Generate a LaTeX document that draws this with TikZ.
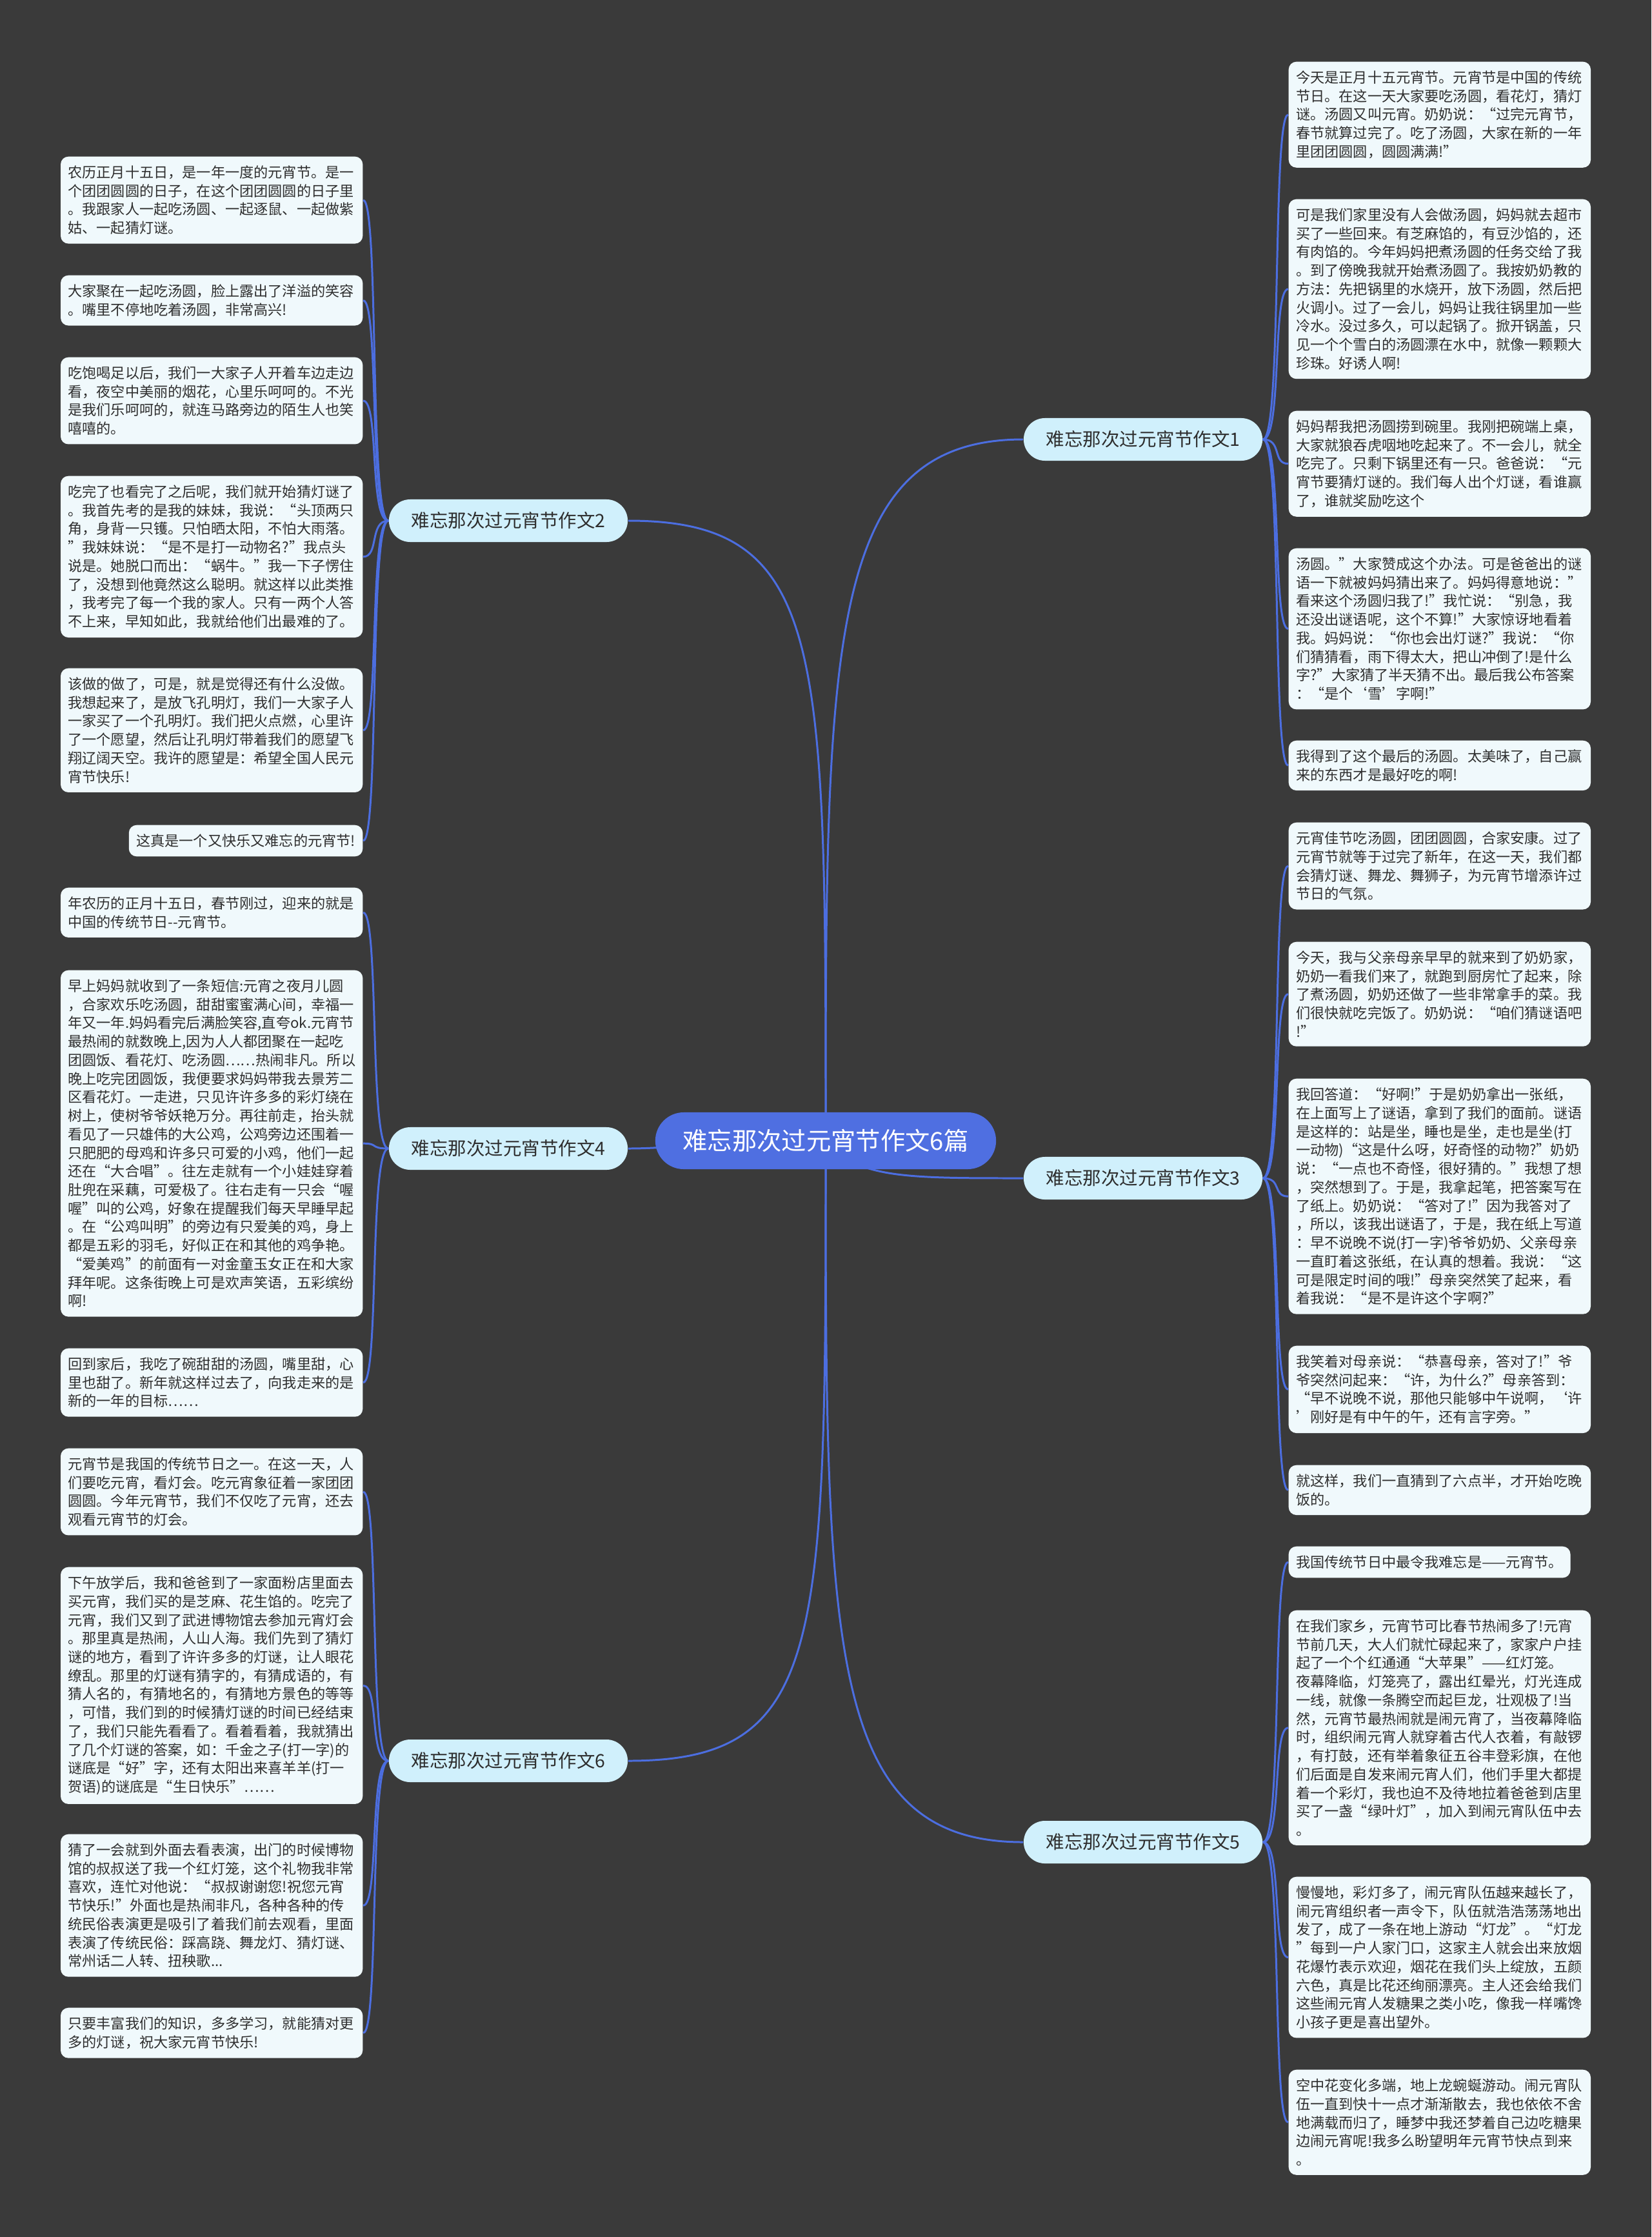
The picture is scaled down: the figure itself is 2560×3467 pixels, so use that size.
\documentclass[tikz,border=0pt]{standalone}
\usepackage{fontspec}
\setmainfont{Noto Sans CJK SC}
\usetikzlibrary{backgrounds}
\definecolor{canvas}{HTML}{3A3A3A}
\definecolor{trunk}{HTML}{4C6EE0}
\definecolor{rootfill}{HTML}{4F6FE1}
\definecolor{branchfill}{HTML}{D0F0FC}
\definecolor{leaffill}{HTML}{F0F9FC}
\definecolor{ink}{HTML}{2E2E2E}
\tikzset{
  rootnode/.style={fill=rootfill,text=white,rounded corners=0.44cm,minimum width=5.28cm,minimum height=0.88cm,font=\fontsize{10.9}{12}\selectfont},
  branch/.style={fill=branchfill,text=ink,rounded corners=0.33cm,minimum width=3.7cm,minimum height=0.66cm,font=\fontsize{8.1}{9}\selectfont},
  leaf/.style={fill=leaffill,text=ink,rounded corners=0.12cm,align=left,inner xsep=0.115cm,inner ysep=0.14cm,font=\fontsize{6.3}{8.17}\selectfont},
  leafL/.style={leaf,anchor=north east,text width=4.45cm},
  leafR/.style={leaf,anchor=north west,text width=4.45cm},
  link/.style={draw=trunk,line width=0.85pt}
}

\begin{document}
\begin{tikzpicture}[x=0.01cm,y=-0.01cm,line cap=round,line join=round]
  \useasboundingbox (0,0) rectangle (2560,3467);
  % centre and main branches
  \node[rootnode] (root) at (1280,1768) {难忘那次过元宵节作文6篇};
  \node[branch] (b1) at (1772,681) {难忘那次过元宵节作文1};
  \node[branch] (b2) at (788,807) {难忘那次过元宵节作文2};
  \node[branch] (b3) at (1772,1826) {难忘那次过元宵节作文3};
  \node[branch] (b4) at (788,1780) {难忘那次过元宵节作文4};
  \node[branch] (b5) at (1772,2855) {难忘那次过元宵节作文5};
  \node[branch] (b6) at (788,2729) {难忘那次过元宵节作文6};
  % essay 2
  \node[leafL] (l2a) at (563,242) {农历正月十五日，是一年一度的元宵节。是一\\个团团圆圆的日子，在这个团团圆圆的日子里\\。我跟家人一起吃汤圆、一起逐鼠、一起做紫\\姑、一起猜灯谜。};
  \node[leafL] (l2b) at (563,426) {大家聚在一起吃汤圆，脸上露出了洋溢的笑容\\。嘴里不停地吃着汤圆，非常高兴!};
  \node[leafL] (l2c) at (563,553) {吃饱喝足以后，我们一大家子人开着车边走边\\看，夜空中美丽的烟花，心里乐呵呵的。不光\\是我们乐呵呵的，就连马路旁边的陌生人也笑\\嘻嘻的。};
  \node[leafL] (l2d) at (563,737) {吃完了也看完了之后呢，我们就开始猜灯谜了\\。我首先考的是我的妹妹，我说：“头顶两只\\角，身背一只镬。只怕晒太阳，不怕大雨落。\\”我妹妹说：“是不是打一动物名?”我点头\\说是。她脱口而出：“蜗牛。”我一下子愣住\\了，没想到他竟然这么聪明。就这样以此类推\\，我考完了每一个我的家人。只有一两个人答\\不上来，早知如此，我就给他们出最难的了。};
  \node[leafL] (l2e) at (563,1035) {该做的做了，可是，就是觉得还有什么没做。\\我想起来了，是放飞孔明灯，我们一大家子人\\一家买了一个孔明灯。我们把火点燃，心里许\\了一个愿望，然后让孔明灯带着我们的愿望飞\\翔辽阔天空。我许的愿望是：希望全国人民元\\宵节快乐!};
  \node[leaf,anchor=north east] (l2f) at (563,1278) {这真是一个又快乐又难忘的元宵节!};
  % essay 4
  \node[leafL] (l4a) at (563,1375) {年农历的正月十五日，春节刚过，迎来的就是\\中国的传统节日-{}-元宵节。};
  \node[leafL] (l4b) at (563,1503) {早上妈妈就收到了一条短信:元宵之夜月儿圆\\，合家欢乐吃汤圆，甜甜蜜蜜满心间，幸福一\\年又一年.妈妈看完后满脸笑容,直夸ok.元宵节\\最热闹的就数晚上,因为人人都团聚在一起吃\\团圆饭、看花灯、吃汤圆……热闹非凡。所以\\晚上吃完团圆饭，我便要求妈妈带我去景芳二\\区看花灯。一走进，只见许许多多的彩灯绕在\\树上，使树爷爷妖艳万分。再往前走，抬头就\\看见了一只雄伟的大公鸡，公鸡旁边还围着一\\只肥肥的母鸡和许多只可爱的小鸡，他们一起\\还在“大合唱”。往左走就有一个小娃娃穿着\\肚兜在采藕，可爱极了。往右走有一只会“喔\\喔”叫的公鸡，好象在提醒我们每天早睡早起\\。在“公鸡叫明”的旁边有只爱美的鸡，身上\\都是五彩的羽毛，好似正在和其他的鸡争艳。\\“爱美鸡”的前面有一对金童玉女正在和大家\\拜年呢。这条街晚上可是欢声笑语，五彩缤纷\\啊!};
  \node[leafL] (l4c) at (563,2089) {回到家后，我吃了碗甜甜的汤圆，嘴里甜，心\\里也甜了。新年就这样过去了，向我走来的是\\新的一年的目标……};
  % essay 6
  \node[leafL] (l6a) at (563,2244) {元宵节是我国的传统节日之一。在这一天，人\\们要吃元宵，看灯会。吃元宵象征着一家团团\\圆圆。今年元宵节，我们不仅吃了元宵，还去\\观看元宵节的灯会。};
  \node[leafL] (l6b) at (563,2428) {下午放学后，我和爸爸到了一家面粉店里面去\\买元宵，我们买的是芝麻、花生馅的。吃完了\\元宵，我们又到了武进博物馆去参加元宵灯会\\。那里真是热闹，人山人海。我们先到了猜灯\\谜的地方，看到了许许多多的灯谜，让人眼花\\缭乱。那里的灯谜有猜字的，有猜成语的，有\\猜人名的，有猜地名的，有猜地方景色的等等\\，可惜，我们到的时候猜灯谜的时间已经结束\\了，我们只能先看看了。看着看着，我就猜出\\了几个灯谜的答案，如：千金之子(打一字)的\\谜底是“好”字，还有太阳出来喜羊羊(打一\\贺语)的谜底是“生日快乐”……};
  \node[leafL] (l6c) at (563,2842) {猜了一会就到外面去看表演，出门的时候博物\\馆的叔叔送了我一个红灯笼，这个礼物我非常\\喜欢，连忙对他说：“叔叔谢谢您!祝您元宵\\节快乐!”外面也是热闹非凡，各种各种的传\\统民俗表演更是吸引了着我们前去观看，里面\\表演了传统民俗：踩高跷、舞龙灯、猜灯谜、\\常州话二人转、扭秧歌...};
  \node[leafL] (l6d) at (563,3111) {只要丰富我们的知识，多多学习，就能猜对更\\多的灯谜，祝大家元宵节快乐!};
  % essay 1
  \node[leafR] (r1a) at (1997,95) {今天是正月十五元宵节。元宵节是中国的传统\\节日。在这一天大家要吃汤圆，看花灯，猜灯\\谜。汤圆又叫元宵。奶奶说：“过完元宵节，\\春节就算过完了。吃了汤圆，大家在新的一年\\里团团圆圆，圆圆满满!”};
  \node[leafR] (r1b) at (1997,308) {可是我们家里没有人会做汤圆，妈妈就去超市\\买了一些回来。有芝麻馅的，有豆沙馅的，还\\有肉馅的。今年妈妈把煮汤圆的任务交给了我\\。到了傍晚我就开始煮汤圆了。我按奶奶教的\\方法：先把锅里的水烧开，放下汤圆，然后把\\火调小。过了一会儿，妈妈让我往锅里加一些\\冷水。没过多久，可以起锅了。掀开锅盖，只\\见一个个雪白的汤圆漂在水中，就像一颗颗大\\珍珠。好诱人啊!};
  \node[leafR] (r1c) at (1997,636) {妈妈帮我把汤圆捞到碗里。我刚把碗端上桌，\\大家就狼吞虎咽地吃起来了。不一会儿，就全\\吃完了。只剩下锅里还有一只。爸爸说：“元\\宵节要猜灯谜的。我们每人出个灯谜，看谁赢\\了，谁就奖励吃这个};
  \node[leafR] (r1d) at (1997,849) {汤圆。”大家赞成这个办法。可是爸爸出的谜\\语一下就被妈妈猜出来了。妈妈得意地说：”\\看来这个汤圆归我了!”我忙说：“别急，我\\还没出谜语呢，这个不算!”大家惊讶地看着\\我。妈妈说：“你也会出灯谜?”我说：“你\\们猜猜看，雨下得太大，把山冲倒了!是什么\\字?”大家猜了半天猜不出。最后我公布答案\\：“是个‘雪’字啊!”};
  \node[leafR] (r1e) at (1997,1147) {我得到了这个最后的汤圆。太美味了，自己赢\\来的东西才是最好吃的啊!};
  % essay 3
  \node[leafR] (r3a) at (1997,1274) {元宵佳节吃汤圆，团团圆圆，合家安康。过了\\元宵节就等于过完了新年，在这一天，我们都\\会猜灯谜、舞龙、舞狮子，为元宵节增添许过\\节日的气氛。};
  \node[leafR] (r3b) at (1997,1459) {今天，我与父亲母亲早早的就来到了奶奶家，\\奶奶一看我们来了，就跑到厨房忙了起来，除\\了煮汤圆，奶奶还做了一些非常拿手的菜。我\\们很快就吃完饭了。奶奶说：“咱们猜谜语吧\\!”};
  \node[leafR] (r3c) at (1997,1671) {我回答道：“好啊!”于是奶奶拿出一张纸，\\在上面写上了谜语，拿到了我们的面前。谜语\\是这样的：站是坐，睡也是坐，走也是坐(打\\一动物)“这是什么呀，好奇怪的动物?”奶奶\\说：“一点也不奇怪，很好猜的。”我想了想\\，突然想到了。于是，我拿起笔，把答案写在\\了纸上。奶奶说：“答对了!”因为我答对了\\，所以，该我出谜语了，于是，我在纸上写道\\：早不说晚不说(打一字)爷爷奶奶、父亲母亲\\一直盯着这张纸，在认真的想着。我说：“这\\可是限定时间的哦!”母亲突然笑了起来，看\\着我说：“是不是许这个字啊?”};
  \node[leafR] (r3d) at (1997,2085) {我笑着对母亲说：“恭喜母亲，答对了!”爷\\爷突然问起来：“许，为什么?”母亲答到：\\“早不说晚不说，那他只能够中午说啊，‘许\\’刚好是有中午的午，还有言字旁。”};
  \node[leafR] (r3e) at (1997,2270) {就这样，我们一直猜到了六点半，才开始吃晚\\饭的。};
  % essay 5
  \node[leaf,anchor=north west] (r5a) at (1997,2396) {我国传统节日中最令我难忘是——元宵节。};
  \node[leafR] (r5b) at (1997,2495) {在我们家乡，元宵节可比春节热闹多了!元宵\\节前几天，大人们就忙碌起来了，家家户户挂\\起了一个个红通通“大苹果”——红灯笼。\\夜幕降临，灯笼亮了，露出红晕光，灯光连成\\一线，就像一条腾空而起巨龙，壮观极了!当\\然，元宵节最热闹就是闹元宵了，当夜幕降临\\时，组织闹元宵人就穿着古代人衣着，有敲锣\\，有打鼓，还有举着象征五谷丰登彩旗，在他\\们后面是自发来闹元宵人们，他们手里大都提\\着一个彩灯，我也迫不及待地拉着爸爸到店里\\买了一盏“绿叶灯”，加入到闹元宵队伍中去\\。};
  \node[leafR] (r5c) at (1997,2908) {慢慢地，彩灯多了，闹元宵队伍越来越长了，\\闹元宵组织者一声令下，队伍就浩浩荡荡地出\\发了，成了一条在地上游动“灯龙”。“灯龙\\”每到一户人家门口，这家主人就会出来放烟\\花爆竹表示欢迎，烟花在我们头上绽放，五颜\\六色，真是比花还绚丽漂亮。主人还会给我们\\这些闹元宵人发糖果之类小吃，像我一样嘴馋\\小孩子更是喜出望外。};
  \node[leafR] (r5d) at (1997,3207) {空中花变化多端，地上龙蜿蜒游动。闹元宵队\\伍一直到快十一点才渐渐散去，我也依依不舍\\地满载而归了，睡梦中我还梦着自己边吃糖果\\边闹元宵呢!我多么盼望明年元宵节快点到来\\。};
  % connectors behind the boxes
  \begin{scope}[on background layer]
    \fill[canvas] (0,0) rectangle (2560,3467);
    \draw[link] (root.center) .. controls (1280,1000) and (1280,681) .. (b1.west);
    \draw[link] (root.center) .. controls (1280,1000) and (1280,807) .. (b2.east);
    \draw[link] (root.center) .. controls (1330,1826) and (1400,1826) .. (b3.west);
    \draw[link] (root.center) .. controls (1100,1768) and (1050,1780) .. (b4.east);
    \draw[link] (root.center) .. controls (1280,2550) and (1280,2855) .. (b5.west);
    \draw[link] (root.center) .. controls (1280,2550) and (1280,2729) .. (b6.east);
    \foreach \b/\l in {b2/l2a,b2/l2b,b2/l2c,b2/l2d,b2/l2e,b2/l2f,b4/l4a,b4/l4b,b4/l4c,b6/l6a,b6/l6b,b6/l6c,b6/l6d}
      {\draw[link] (\b.west) .. controls +(-30,0) and +(25,0) .. (\l.east);}
    \foreach \b/\r in {b1/r1a,b1/r1b,b1/r1c,b1/r1d,b1/r1e,b3/r3a,b3/r3b,b3/r3c,b3/r3d,b3/r3e,b5/r5a,b5/r5b,b5/r5c,b5/r5d}
      {\draw[link] (\b.east) .. controls +(30,0) and +(-25,0) .. (\r.west);}
  \end{scope}
\end{tikzpicture}
\end{document}
